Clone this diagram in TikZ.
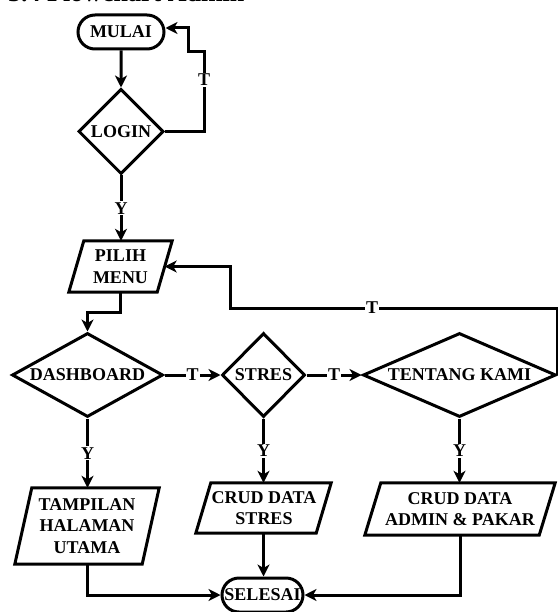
\documentclass[tikz,border=0pt]{standalone}
\usepackage{fontspec}
\setmainfont{Liberation Serif}
\usetikzlibrary{shapes.geometric,shapes.misc,arrows.meta,calc}
\newcommand\drawpara[2]{\draw[line width=3pt,fill=white,line join=miter]
  ($(#1.north west)+(#2,0)$) -- ($(#1.north east)+(#2,0)$) --
  ($(#1.south east)+(-#2,0)$) -- ($(#1.south west)+(-#2,0)$) -- cycle;}
\begin{document}
\begin{tikzpicture}[x=1pt,y=-1pt,
  every node/.style={font=\bfseries\fontsize{18}{21.5}\selectfont},
  shp/.style={draw=black,line width=3pt,fill=white,inner sep=0pt},
  term/.style={shp,rounded rectangle},
  dec/.style={shp,diamond},
  parabox/.style={rectangle,inner sep=0pt},
  txt/.style={align=center,inner sep=0pt},
  lbl/.style={fill=white,inner sep=1pt},
  conn/.style={line width=3pt,-{Stealth[length=12pt,width=12pt,inset=3.5pt]}}]
\useasboundingbox (0,0) rectangle (557,612);
% header (cut off at top)
\node[anchor=base west,inner sep=0pt,font=\bfseries\fontsize{26}{30}\selectfont] (hdr) at (8,1.5) {3.4 Flowchart Admin};

% nodes
\node[term,minimum width=86pt,minimum height=34pt] (mulai) at (121,32) {MULAI};
\node[dec,minimum width=85pt,minimum height=85pt,aspect=1] (login) at (121,131.5) {LOGIN};
\node[parabox,minimum width=88pt,minimum height=51pt] (pm) at (120.5,266.5) {};
\drawpara{pm}{7.5}
\node[txt] (pmt) at (120.5,266.5) {PILIH\\MENU};
\node[dec,minimum width=151pt,minimum height=84pt,aspect=1.8] (dash) at (87.5,375) {DASHBOARD};
\node[dec,minimum width=83pt,minimum height=84pt,aspect=1] (stres) at (263.5,375) {STRES};
\node[dec,minimum width=193pt,minimum height=84pt,aspect=2.3] (tk) at (459.5,375) {TENTANG KAMI};
\node[parabox,minimum width=127pt,minimum height=76pt] (b1) at (87,526) {};
\drawpara{b1}{8.5}
\node[txt] (b1t) at (87,526) {TAMPILAN\\HALAMAN\\UTAMA};
\node[parabox,minimum width=120pt,minimum height=50pt] (b2) at (263.5,508) {};
\drawpara{b2}{7.5}
\node[txt] (b2t) at (264,508) {CRUD DATA\\STRES};
\node[parabox,minimum width=174pt,minimum height=52pt] (b3) at (460,509) {};
\drawpara{b3}{8}
\node[txt] (b3t) at (460,509) {CRUD DATA\\ADMIN \& PAKAR};
\node[term,minimum width=81pt,minimum height=34pt] (sel) at (262.5,595) {SELESAI};

% helper coordinates
\coordinate (c1) at (204,52);
\coordinate (c2) at (188,28);
\coordinate (c3) at (87.5,312);
\coordinate (r1) at (230,308);

% connectors
\draw[conn] (mulai) -- (login);
\draw[conn] (login.east) -| (c1) -| (c2) -- (mulai.east |- c2);
\node[lbl] (tl1) at (204,80) {T};
\draw[conn] (login.south) -- node[lbl] (yl1) {Y} (login.south |- pm.north);
\draw[conn] (pm.south) |- (c3) -- (dash.north);
\draw[conn] (dash.east) -- node[lbl] (tl2) {T} (stres.west);
\draw[conn] (stres.east) -- node[lbl] (tl3) {T} (tk.west);
\draw[conn] (tk.east) |- (r1) |- (pm.east);
\node[lbl] (tl4) at (372,308) {T};
\draw[conn] (dash.south) -- node[lbl] (yl2) {Y} (dash.south |- b1.north);
\draw[conn] (stres.south) -- node[lbl] (yl3) {Y} (stres.south |- b2.north);
\draw[conn] (tk.south) -- node[lbl] (yl4) {Y} (tk.south |- b3.north);
\draw[conn] (b1.south) |- (sel.west);
\draw[conn] (b2.south) -- (b2.south |- sel.north);
\draw[conn] (b3.south) |- (sel.east);
\end{tikzpicture}
\end{document}
